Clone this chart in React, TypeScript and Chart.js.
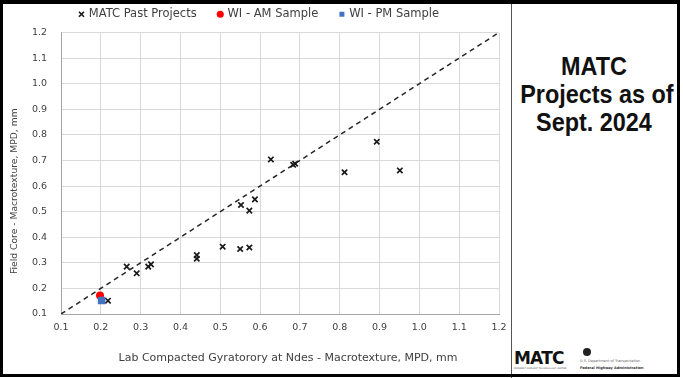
import React, { useEffect, useRef } from "react";
import { Chart, registerables } from "chart.js";

Chart.register(...registerables);

// ---- data ----
const pastX = [0.218, 0.265, 0.29, 0.319, 0.326, 0.441, 0.441, 0.506, 0.55, 0.573, 0.552, 0.573, 0.587, 0.627, 0.683, 0.688, 0.812, 0.893, 0.951];
const pastY = [0.152, 0.285, 0.259, 0.285, 0.294, 0.33, 0.316, 0.363, 0.354, 0.36, 0.526, 0.504, 0.548, 0.704, 0.683, 0.687, 0.654, 0.773, 0.661];
const amX = [0.198];
const amY = [0.172];
const pmX = [0.202];
const pmY = [0.153];
const lineX = [0.1, 1.2];
const lineY = [0.1, 1.2];
const tickValues = [0.1, 0.2, 0.3, 0.4, 0.5, 0.6, 0.7, 0.8, 0.9, 1.0, 1.1, 1.2];
const seriesNames = ["MATC Past Projects", "WI - AM Sample", "WI - PM Sample"];
const xTitle = "Lab Compacted Gyratorory at Ndes - Macrotexture, MPD, mm";
const yTitle = "Field Core - Macrotexture, MPD, mm";
const panelLines = ["MATC", "Projects as of", "Sept. 2024"];

const FONT = '"DejaVu Sans", "Noto Sans", sans-serif';
const TEXT = "#404040";

const zip = (xs: number[], ys: number[]) => xs.map((x, i) => ({ x, y: ys[i] }));

const axisTitles = {
  id: "axisTitles",
  afterDraw(chart: any) {
    const { ctx, chartArea } = chart;
    ctx.save();
    ctx.fillStyle = TEXT;
    ctx.textAlign = "center";
    ctx.textBaseline = "middle";
    ctx.font = `11px ${FONT}`;
    ctx.fillText(xTitle, (chartArea.left + chartArea.right) / 2 + 8, chartArea.bottom + 44);
    ctx.translate(15, (chartArea.top + chartArea.bottom) / 2 + 18);
    ctx.rotate(-Math.PI / 2);
    ctx.font = `9.2px ${FONT}`;
    ctx.fillText(yTitle, 0, 0);
    ctx.restore();
  },
};

function ChartBox() {
  const ref = useRef<HTMLCanvasElement>(null);
  useEffect(() => {
    if (!ref.current) return;
    const tickFont = { family: FONT, size: 9.5 };
    const chart = new Chart(ref.current, {
      type: "scatter",
      data: {
        datasets: [
          {
            label: seriesNames[0],
            data: zip(pastX, pastY),
            pointStyle: "crossRot",
            pointRadius: 3.8,
            borderWidth: 1.7,
            borderColor: "#1a1a1a",
            backgroundColor: "#1a1a1a",
            order: 3,
          },
          {
            label: seriesNames[1],
            data: zip(amX, amY),
            pointStyle: "circle",
            pointRadius: 4,
            borderWidth: 0,
            borderColor: "#ff0000",
            backgroundColor: "#ff0000",
            order: 2,
          },
          {
            label: seriesNames[2],
            data: zip(pmX, pmY),
            pointStyle: "rect",
            pointRadius: 5.3,
            borderWidth: 0,
            borderColor: "#4472c4",
            backgroundColor: "#4472c4",
            order: 1,
          },
          {
            label: "line",
            data: zip(lineX, lineY),
            showLine: true,
            borderDash: [5, 4],
            borderColor: "#262626",
            borderWidth: 1.5,
            pointRadius: 0,
            order: 5,
          } as any,
        ],
      },
      options: {
        animation: false,
        responsive: true,
        maintainAspectRatio: false,
        layout: { padding: { left: 20, right: 12, top: 1, bottom: 0 } },
        plugins: {
          tooltip: { enabled: false },
          subtitle: {
            display: true,
            text: "",
            font: { size: 1, lineHeight: 1 },
            padding: { top: 0, bottom: 1.5 },
            weight: 500,
          } as any,
          legend: {
            position: "top",
            labels: {
              usePointStyle: true,
              boxWidth: 3,
              boxHeight: 5,
              padding: 7.5,
              color: TEXT,
              font: { family: FONT, size: 11.5 },
              filter: (item: any) => item.datasetIndex < 3,
              sort: (a: any, b: any) => a.datasetIndex - b.datasetIndex,
              generateLabels: (chart: any) => {
                const items = Chart.defaults.plugins.legend.labels.generateLabels(chart);
                return items.map((it: any) => ({
                  ...it,
                  text: it.datasetIndex < 2 ? it.text + "    " : it.text,
                }));
              },
            },
          },
        },
        scales: {
          x: {
            type: "linear",
            min: 0.1,
            max: 1.2,
            afterBuildTicks: (s: any) => {
              s.ticks = tickValues.map((v) => ({ value: v }));
            },
            afterFit: (s: any) => {
              s.height = 64;
              s.paddingLeft = 0;
              s.paddingRight = 0;
            },
            ticks: {
              callback: (v: any) => Number(v).toFixed(1),
              font: tickFont,
              color: TEXT,
              padding: 8,
              maxRotation: 0,
              autoSkip: false,
            },
            grid: { color: "#d9d9d9", drawTicks: false },
            border: { color: "#a6a6a6" },
          },
          y: {
            type: "linear",
            min: 0.1,
            max: 1.2,
            afterBuildTicks: (s: any) => {
              s.ticks = tickValues.map((v) => ({ value: v }));
            },
            afterFit: (s: any) => {
              s.width = 41;
            },
            ticks: {
              callback: (v: any) => Number(v).toFixed(1),
              font: tickFont,
              color: TEXT,
              padding: 14,
              autoSkip: false,
            },
            grid: { color: "#d9d9d9", drawTicks: false },
            border: { color: "#a6a6a6" },
          },
        },
      },
      plugins: [axisTitles],
    } as any);
    return () => chart.destroy();
  }, []);
  return <canvas ref={ref} />;
}

export default function App() {
  return (
    <div
      style={{
        position: "fixed",
        left: 0,
        top: 0,
        width: 683,
        height: 378,
        background: "#fff",
        overflow: "hidden",
      }}
    >
      <div style={{ position: "absolute", left: 0, top: 0, width: 511, height: 378 }}>
        <ChartBox />
      </div>
      {/* separator */}
      <div style={{ position: "absolute", left: 511, top: 0, width: 1, height: 378, background: "#555" }} />
      {/* right panel title */}
      <div
        style={{
          position: "absolute",
          left: 512,
          top: 52,
          width: 164,
          textAlign: "center",
          fontFamily: '"Liberation Sans", Arial, sans-serif',
          fontWeight: 700,
          fontSize: 26,
          lineHeight: "28px",
          color: "#111",
          whiteSpace: "nowrap",
          transform: "scaleX(0.9)",
          transformOrigin: "center top",
        }}
      >
        {panelLines.map((l) => (
          <div key={l}>{l}</div>
        ))}
      </div>
      {/* logos */}
      <div
        style={{
          position: "absolute",
          left: 514,
          top: 350,
          fontFamily: '"DejaVu Sans", sans-serif',
          fontWeight: 700,
          fontSize: 17,
          lineHeight: "17px",
          letterSpacing: -0.8,
          color: "#111",
        }}
      >
        MATC
      </div>
      <div
        style={{
          position: "absolute",
          left: 514,
          top: 367,
          fontFamily: '"DejaVu Sans", sans-serif',
          fontSize: 2.5,
          lineHeight: "3px",
          color: "#555",
          whiteSpace: "nowrap",
        }}
      >
        MIDWEST ASPHALT TECHNOLOGY CENTER
      </div>
      <div
        style={{
          position: "absolute",
          left: 583,
          top: 348,
          width: 8,
          height: 8,
          borderRadius: 4,
          background: "#222",
        }}
      />
      <div
        style={{
          position: "absolute",
          left: 580,
          top: 359,
          fontFamily: '"DejaVu Sans", sans-serif',
          fontSize: 3.5,
          lineHeight: "4px",
          color: "#666",
          whiteSpace: "nowrap",
        }}
      >
        U.S. Department of Transportation
      </div>
      <div
        style={{
          position: "absolute",
          left: 580,
          top: 366,
          fontFamily: '"DejaVu Sans", sans-serif',
          fontSize: 3.5,
          fontWeight: 700,
          lineHeight: "4px",
          color: "#333",
          whiteSpace: "nowrap",
        }}
      >
        Federal Highway Administration
      </div>
      {/* outer frame */}
      <div
        style={{
          position: "absolute",
          left: 0,
          top: 0,
          width: 680,
          height: 377,
          border: "3px solid #000",
          borderTopWidth: 4,
          boxSizing: "border-box",
          pointerEvents: "none",
        }}
      />
    </div>
  );
}
